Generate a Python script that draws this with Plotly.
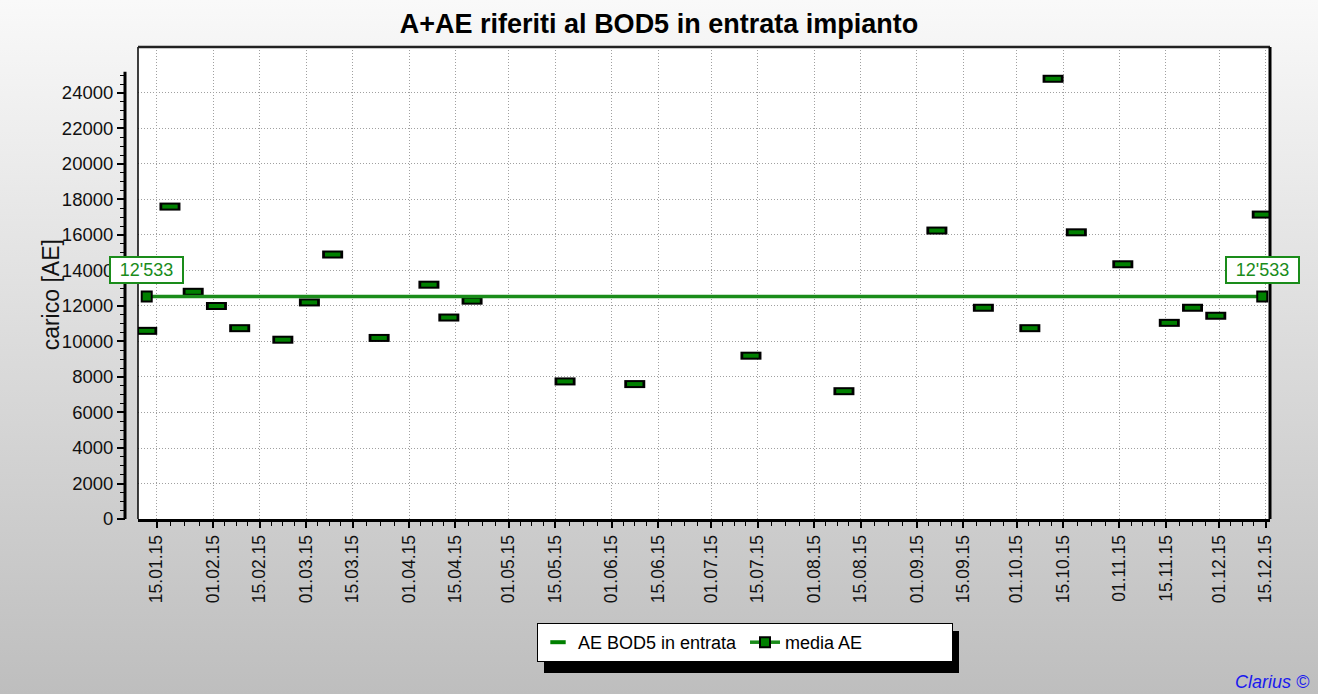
import base64

import pandas as pd
import plotly.graph_objects as go

# campionamenti BOD5 in entrata (data, carico in AE)
sample_dates = [
    "2015-01-12", "2015-01-19", "2015-01-26", "2015-02-02", "2015-02-09",
    "2015-02-22", "2015-03-02", "2015-03-09", "2015-03-23", "2015-04-07",
    "2015-04-13", "2015-04-20", "2015-05-18", "2015-06-08", "2015-07-13",
    "2015-08-10", "2015-09-07", "2015-09-21", "2015-10-05", "2015-10-12",
    "2015-10-19", "2015-11-02", "2015-11-16", "2015-11-23", "2015-11-30",
    "2015-12-14",
]
ae_bod5 = [
    10600, 17600, 12800, 12000, 10750,
    10100, 12200, 14900, 10200, 13200,
    11350, 12300, 7750, 7600, 9200,
    7200, 16250, 11900, 10750, 24800,
    16150, 14350, 11050, 11900, 11450,
    17150,
]
media_ae = 12533
media_label = "12'533"

tick_dates = [
    "2015-01-15", "2015-02-01", "2015-02-15", "2015-03-01", "2015-03-15",
    "2015-04-01", "2015-04-15", "2015-05-01", "2015-05-15", "2015-06-01",
    "2015-06-15", "2015-07-01", "2015-07-15", "2015-08-01", "2015-08-15",
    "2015-09-01", "2015-09-15", "2015-10-01", "2015-10-15", "2015-11-01",
    "2015-11-15", "2015-12-01", "2015-12-15",
]
tick_labels = [pd.Timestamp(d).strftime("%d.%m.%y") for d in tick_dates]
y_ticks = list(range(0, 24001, 2000))
y_axis_top = 25200

GREEN = "#008000"
LINE_GREEN = "#1a8c1a"
FONT = "Liberation Sans, Arial, sans-serif"

# ── geometry of the page ─────────────────────────────────────────────
W, H = 1318, 694
ML, MR, MT, MB = 125, 48, 47, 175
PW, PH = W - ML - MR, H - MT - MB
x0_dom = 13 / PW
Y_MAX = 26590

# quarter subdivisions between the labelled ticks
minor_vals = []
for a, b in zip(tick_dates[:-1], tick_dates[1:]):
    ta, tb = pd.Timestamp(a), pd.Timestamp(b)
    for k in (1, 2, 3):
        minor_vals.append((ta + (tb - ta) * k / 4).strftime("%Y-%m-%d %H:%M"))
y_minor = [v for v in range(500, y_axis_top, 500) if v % 2000]

fig = go.Figure()

# rectangles: black outline underneath, green body on top
fig.add_trace(go.Scatter(
    x=sample_dates, y=ae_bod5, mode="markers", showlegend=False,
    hoverinfo="skip",
    marker=dict(symbol="line-ew", size=15, color="black",
                line=dict(color="black", width=8)),
))
fig.add_trace(go.Scatter(
    x=sample_dates, y=ae_bod5, mode="markers", name="AE BOD5 in entrata",
    marker=dict(symbol="line-ew", size=11, color=GREEN,
                line=dict(color=GREEN, width=4)),
))

# media
fig.add_trace(go.Scatter(
    x=[sample_dates[0], sample_dates[-1]], y=[media_ae, media_ae],
    mode="lines+markers", name="media AE",
    line=dict(color=LINE_GREEN, width=3.5),
    marker=dict(symbol="square", size=10, color=GREEN,
                line=dict(color="black", width=2)),
))

for d in (sample_dates[0], sample_dates[-1]):
    fig.add_annotation(
        x=d, y=media_ae, yshift=27, text=media_label, showarrow=False,
        font=dict(family=FONT, size=18, color=LINE_GREEN),
        bgcolor="white", bordercolor=LINE_GREEN, borderwidth=2,
        borderpad=2, width=67, height=20,
    )

# y title centred on the drawn axis line
fig.add_annotation(
    xref="paper", yref="y", x=(51 - ML) / PW, y=y_axis_top / 2,
    xanchor="center", yanchor="middle",
    text="carico [AE]", textangle=-90, showarrow=False,
    font=dict(family=FONT, size=23, color="#111"),
)
fig.add_annotation(
    xref="paper", yref="paper", x=(1312 - ML) / PW, y=(H - MB - 682) / PH,
    xanchor="right", yanchor="middle", text="<i>Clarius ©</i>", showarrow=False,
    font=dict(family=FONT, size=18, color="#1a1aee"),
)

# background gradient
svg = (
    f"<svg xmlns='http://www.w3.org/2000/svg' width='{W}' height='{H}' "
    "preserveAspectRatio='none'><defs><linearGradient id='g' x1='0' y1='0' "
    "x2='0' y2='1'><stop offset='0' stop-color='#f9f9f9'/>"
    "<stop offset='1' stop-color='#bebebe'/></linearGradient></defs>"
    "<rect width='100%' height='100%' fill='url(#g)'/></svg>"
)
fig.add_layout_image(
    source="data:image/svg+xml;base64," + base64.b64encode(svg.encode()).decode(),
    xref="paper", yref="paper", x=-ML / PW, y=1 + MT / PH,
    sizex=W / PW, sizey=H / PH, xanchor="left", yanchor="top",
    sizing="stretch", layer="below",
)

# legend box, shadow offset by (7, 8)
LEG_X, LEG_TOP, LEG_R, LEG_B = 537, 623, 952, 665
shapes = [
    dict(type="rect", xref="x domain", yref="y domain", x0=0, x1=1, y0=0, y1=1,
         fillcolor="white", line=dict(width=0), layer="below"),
    dict(type="line", xref="x domain", yref="y domain", x0=0, x1=0, y0=0, y1=1,
         line=dict(color="black", width=1.5)),
    dict(type="line", xref="x domain", yref="y domain", x0=0, x1=1, y0=1, y1=1,
         line=dict(color="#222", width=2.5)),
    dict(type="line", xref="x domain", yref="y domain", x0=1, x1=1, y0=0, y1=1,
         line=dict(color="black", width=3)),
    # y axis line (stops a little above the last label)
    dict(type="line", xref="paper", yref="paper", x0=0, x1=0,
         y0=0, y1=y_axis_top / Y_MAX, line=dict(color="black", width=3)),
    # legend shadow
    dict(type="rect", xref="paper", yref="paper",
         x0=(LEG_X + 7 - ML) / PW, x1=(LEG_R + 7 - ML) / PW,
         y0=(H - MB - LEG_B - 8) / PH, y1=(H - MB - LEG_TOP - 8) / PH,
         fillcolor="black", line=dict(width=0)),
]

grid = dict(showgrid=True, gridcolor="#a0a0a0", griddash="1px,2px", gridwidth=1)

fig.update_layout(
    width=W, height=H,
    margin=dict(l=ML, r=MR, t=MT, b=MB),
    paper_bgcolor="#d8d8d8",
    plot_bgcolor="white",
    font=dict(family=FONT, size=17, color="#111"),
    title=dict(text="<b>A+AE riferiti al BOD5 in entrata impianto</b>",
               x=0.5, xanchor="center", y=1 - 24 / H, yanchor="middle",
               font=dict(family=FONT, size=27, color="black")),
    shapes=shapes,
    showlegend=True,
    legend=dict(
        orientation="h", x=(LEG_X - ML) / PW, y=(H - MB - LEG_TOP) / PH,
        xanchor="left", yanchor="top", bgcolor="white",
        bordercolor="black", borderwidth=1,
        font=dict(family=FONT, size=18, color="black"),
        entrywidth=162, itemwidth=30,
    ),
    xaxis=dict(
        type="date", domain=[x0_dom, 1],
        range=["2015-01-09 09:00", "2015-12-16 08:00"],
        tickmode="array", tickvals=tick_dates, ticktext=tick_labels,
        tickangle=-90, ticks="outside", ticklen=6, tickwidth=1.5,
        tickfont=dict(size=17.5),
        tickcolor="black", showline=True, linecolor="black", linewidth=3,
        minor=dict(tickmode="array", tickvals=minor_vals, ticks="outside",
                   ticklen=4, tickwidth=1, tickcolor="black", showgrid=False),
        zeroline=False, **grid,
    ),
    yaxis=dict(
        anchor="free", position=0, range=[0, Y_MAX],
        tickmode="array", tickvals=y_ticks, ticks="outside", ticklen=8,
        tickwidth=1.5, tickcolor="black", tickformat="d",
        tickfont=dict(size=18.5),
        showline=False, zeroline=False, **grid,
        minor=dict(tickmode="array", tickvals=y_minor, ticks="outside",
                   ticklen=5, tickwidth=1, tickcolor="black", showgrid=False),
    ),
)

fig.write_html(
    "out.html",
    config={"displayModeBar": False},
    post_script="document.body.style.margin='0px';",
)
